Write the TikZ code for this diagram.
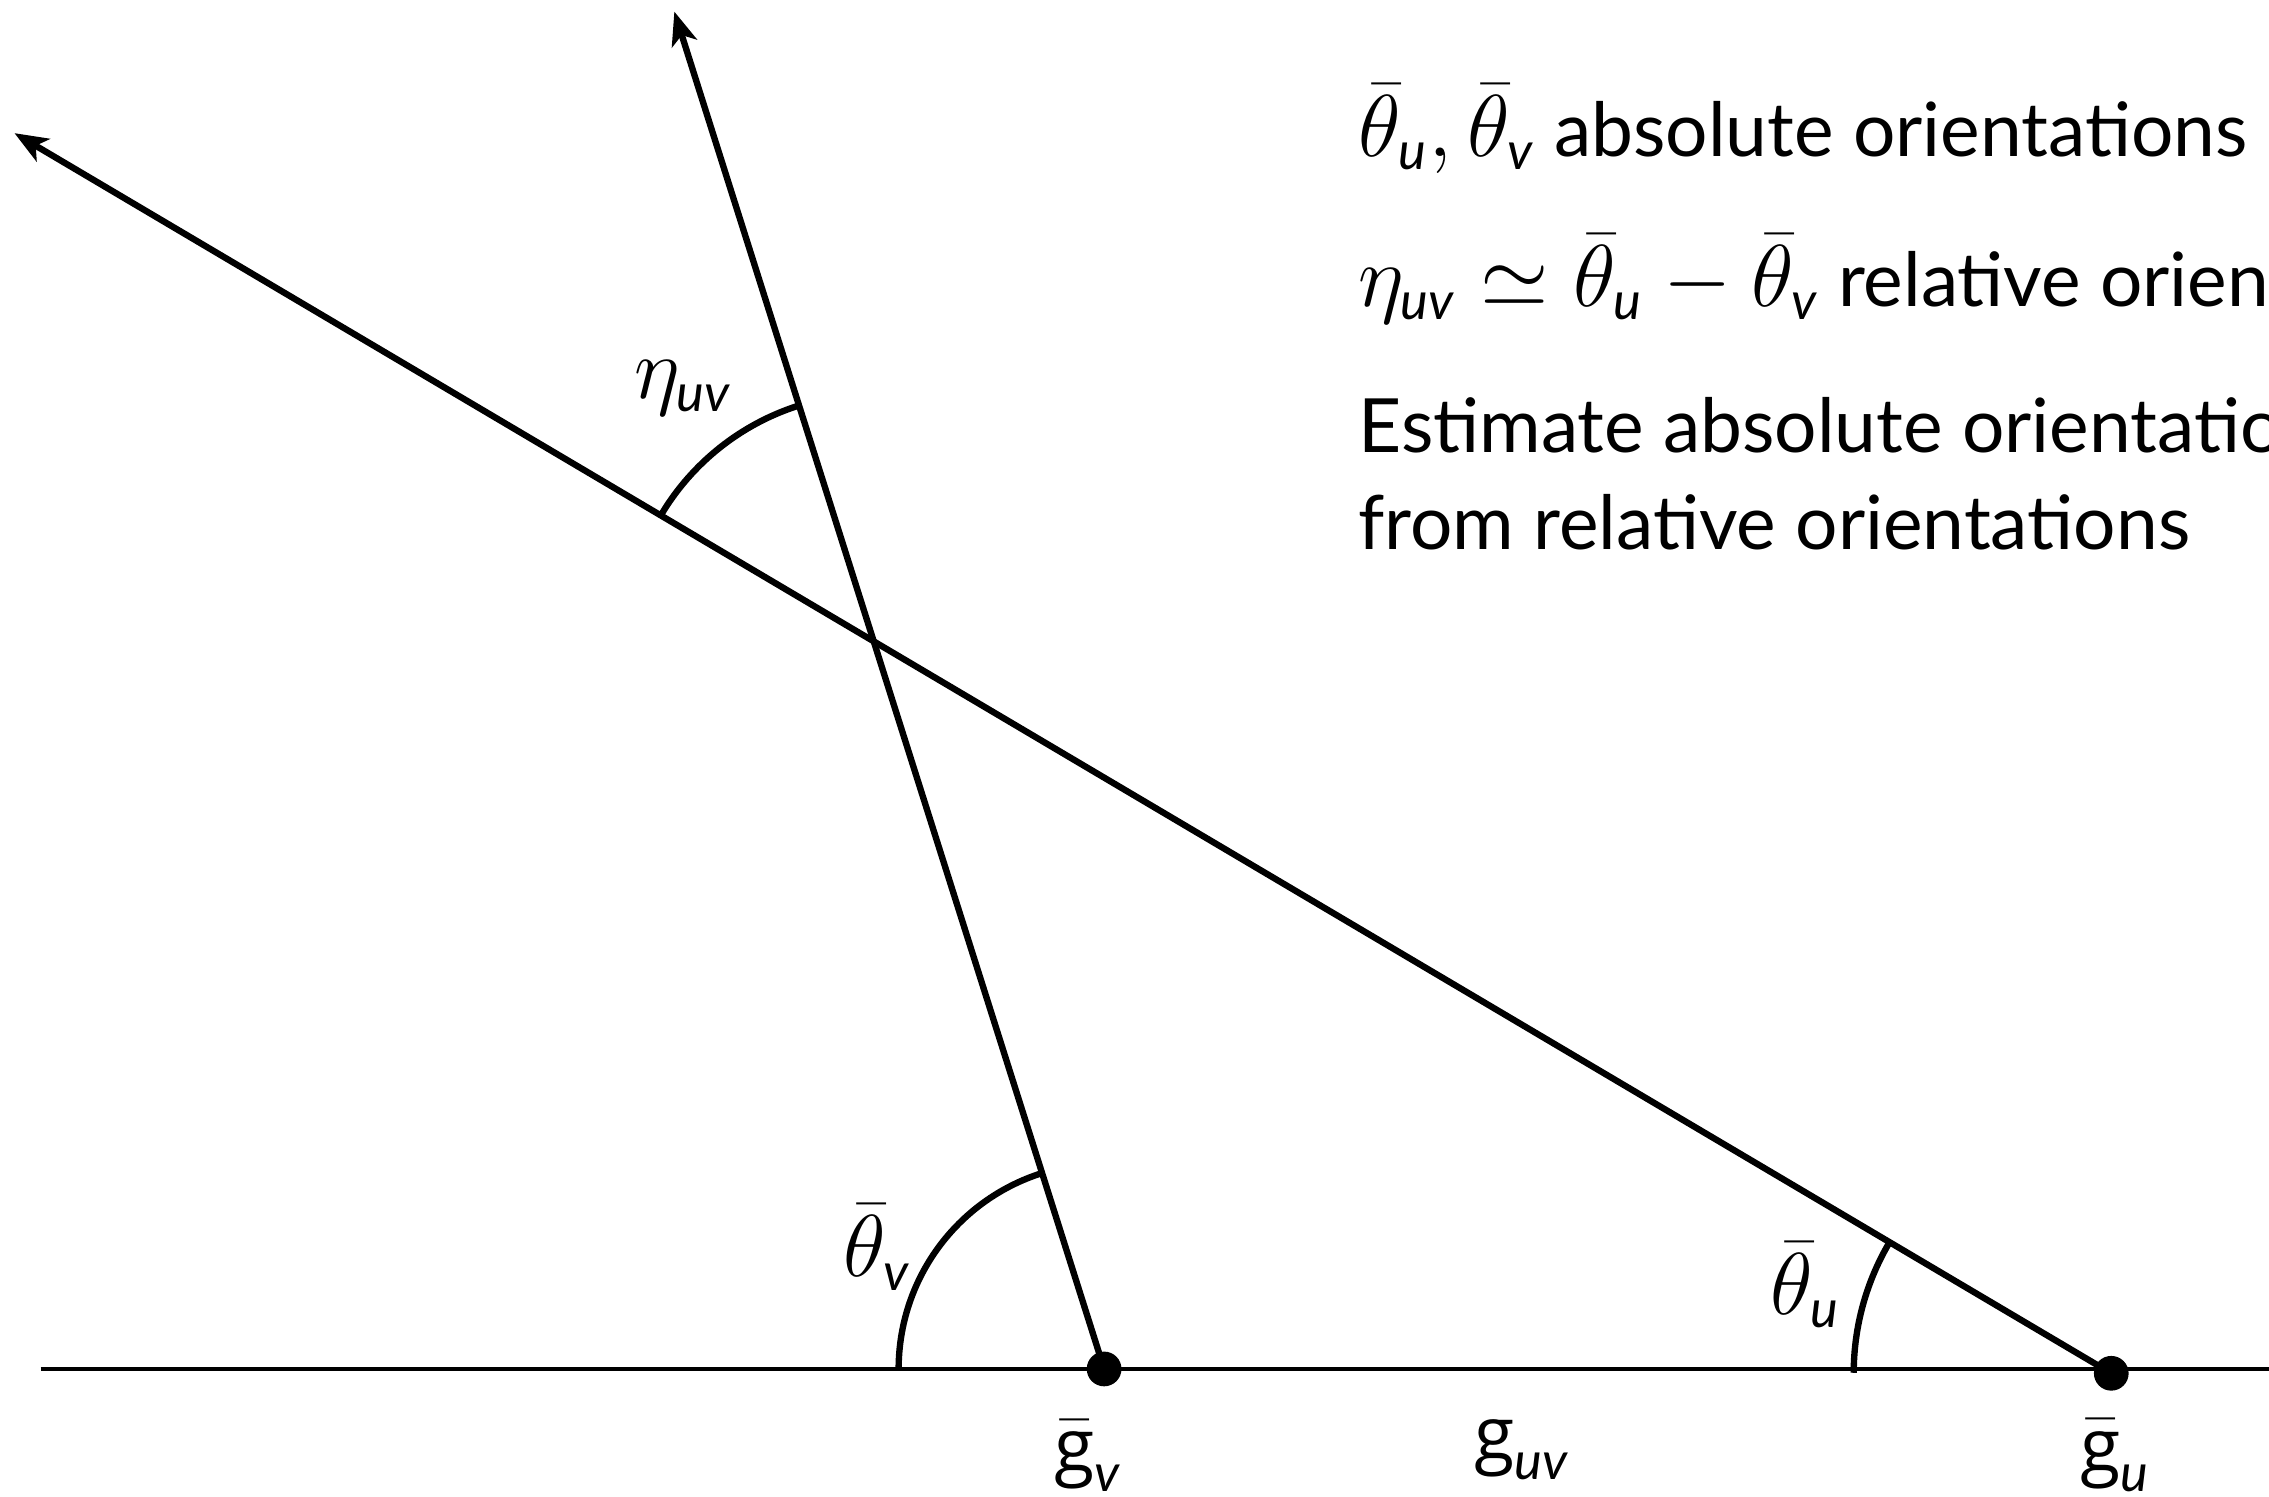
\documentclass[tikz,border=0pt]{standalone}
\usepackage{amsmath}
\usepackage{fontspec}
\setmainfont{Lato}[Scale=0.92]
\newfontfamily\gfont{Open Sans}[Scale=0.9]
\usetikzlibrary{arrows.meta,angles,calc}
\newcommand{\sub}[1]{\text{\itshape #1}}
\newcommand{\gbar}{\bar{\text{\gfont g}}}
\begin{document}
\begin{tikzpicture}[x=0.1mm,y=-0.1mm,
  font=\fontsize{16}{19}\selectfont,
  ray/.style={line width=1.25pt,-{Stealth[length=2.3mm,width=1.8mm,inset=0.6mm]}},
  baseline/.style={line width=0.75pt},
  arcline/.style={draw,line width=1.25pt},
  dot/.style={circle,fill,inner sep=0pt,minimum size=2.4mm},
  lbl/.style={inner sep=1pt},
  txt/.style={anchor=base west,inner sep=0pt}]
\clip (0,0) rectangle (1568,1034);
\coordinate (L) at (28,946);
\coordinate (R) at (1568,946);
\coordinate (cv) at (763,946);
\coordinate (cu) at (1459,949);
\coordinate (Av) at (466,8);
\coordinate (Au) at (10,92);
\draw[baseline] (L) -- (R);
\draw[ray] (cv) -- (Av);
\draw[ray] (cu) -- (Au);
\coordinate (X) at (intersection of cv--Av and cu--Au);
\pic[arcline, angle radius=1.71cm] {angle = Av--X--Au};
\pic[arcline, angle radius=1.42cm] {angle = Av--cv--L};
\pic[arcline, angle radius=1.78cm] {angle = Au--cu--L};
\node[dot] (gv) at (cv) {};
\node[dot] (gu) at (cu) {};
\node[lbl] (eta) at (472,268) {$\eta_{\sub{uv}}$};
\node[lbl] (thv) at (606,862) {$\bar\theta_{\sub{v}}$};
\node[lbl] (thu) at (1248,888) {$\bar\theta_{\sub{u}}$};
\node[lbl] (lgv) at (752,1006) {$\gbar_{\sub{v}}$};
\node[lbl] (lguv) at (1052,1002) {${\text{\gfont g}}_{\sub{uv}}$};
\node[lbl] (lgu) at (1462,1006) {$\gbar_{\sub{u}}$};
\node[txt] (t1) at (938,108) {$\bar\theta_{\sub{u}},\bar\theta_{\sub{v}}$ absolute orientations};
\node[txt] (t2) at (938,212) {$\eta_{\sub{uv}}\simeq\bar\theta_{\sub{u}}-\bar\theta_{\sub{v}}$ relative orientations};
\node[txt] (t3) at (938,313) {Estimate absolute orientations};
\node[txt] (t4) at (938,380) {from relative orientations};
\end{tikzpicture}
\end{document}
